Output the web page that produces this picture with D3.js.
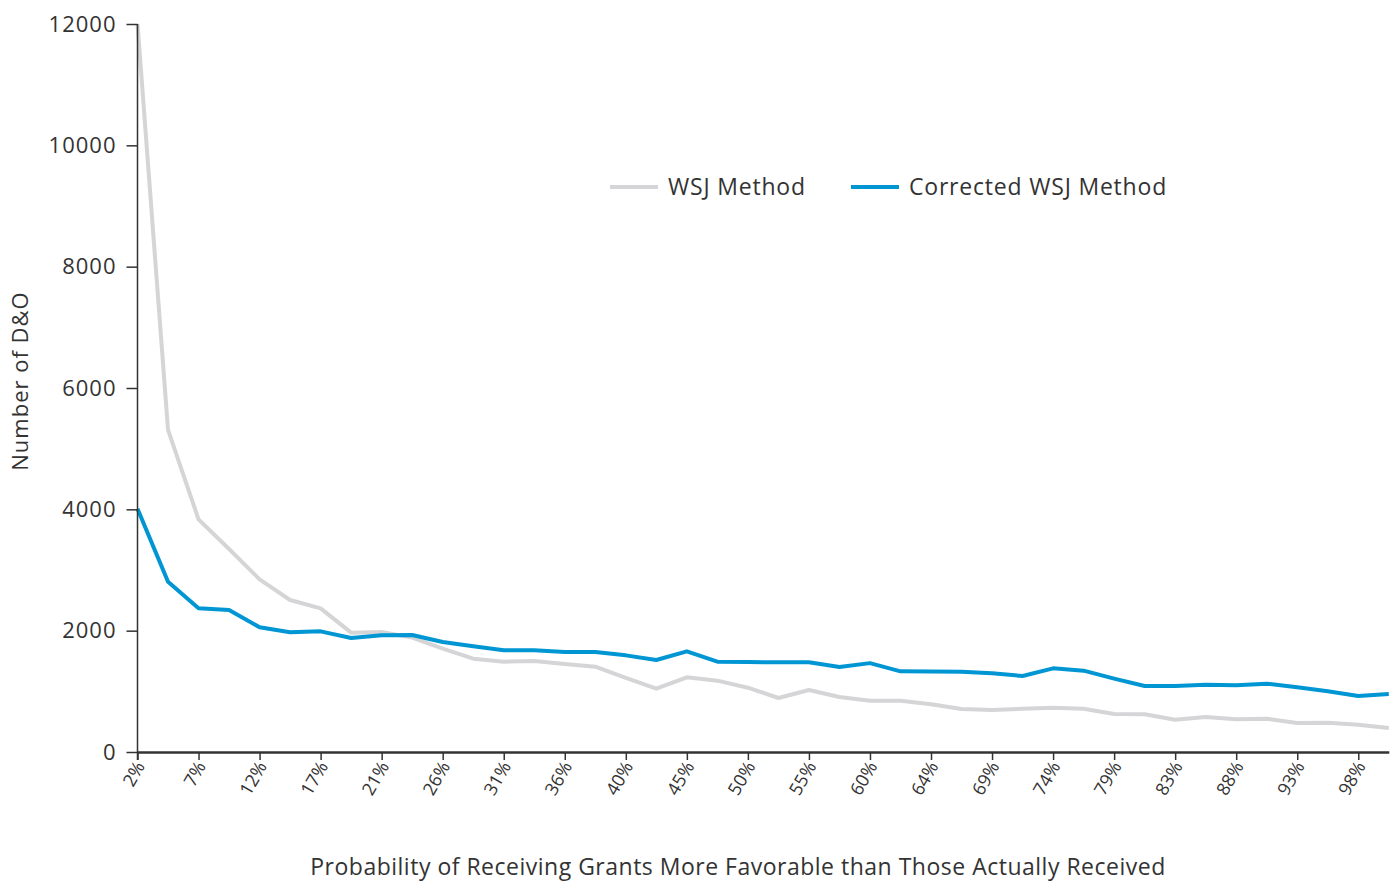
<!DOCTYPE html>
<html>
<head>
<meta charset="utf-8">
<script src="https://cdn.jsdelivr.net/npm/d3@7"></script>
<style>
  body { margin: 0; background: #fff; }
  text { font-family: "Open Sans", sans-serif; fill: #333; }
</style>
</head>
<body>
<div id="chart"></div>
<script>
// Categories: probability buckets (k/42).
const categories = ["2%","5%","7%","10%","12%","14%","17%","19%","21%","24%","26%","29%","31%","33%","36%","38%","40%","43%","45%","48%","50%","52%","55%","57%","60%","62%","64%","67%","69%","71%","74%","76%","79%","81%","83%","86%","88%","90%","93%","95%","98%","100%"];

// WSJ method counts.
const wsjValues = [12000,5310,3835,3346,2846,2505,2368,1967,1978,1885,1703,1538,1489,1500,1450,1406,1220,1044,1231,1176,1060,890,1022,907,846,846,788,709,692,714,731,714,626,621,533,577,538,549,478,483,450,396];

// Corrected WSJ method counts.
const correctedValues = [4010,2807,2368,2340,2055,1973,1989,1879,1923,1928,1813,1742,1676,1676,1648,1648,1593,1516,1659,1489,1483,1478,1478,1401,1465,1330,1326,1324,1297,1253,1379,1341,1209,1088,1088,1110,1099,1126,1066,1000,923,956];

// Y-axis tick values.
const yTicks = [0, 2000, 4000, 6000, 8000, 10000, 12000];

const grey = "#d5d5d7";
const blue = "#0096d3";
const axisColor = "#333";

var width = 1393, height = 882;
var plot = {left: 137.5, right: 1388.8, top: 24, bottom: 752};

var svg = d3.select("#chart")
  .append("svg")
    .attr("width", width)
    .attr("height", height);

var x = d3.scalePoint()
  .domain(categories)
  .range([plot.left, plot.right]);

var y = d3.scaleLinear()
  .domain([0, 12000])
  .range([plot.bottom, plot.top]);

// Lines.
var line = d3.line()
  .x((d, i) => x(categories[i]))
  .y(d => y(d));

svg.append("path")
  .datum(wsjValues)
  .attr("d", line)
  .attr("fill", "none")
  .attr("stroke", grey)
  .attr("stroke-width", 4)
  .attr("stroke-linejoin", "round");

svg.append("path")
  .datum(correctedValues)
  .attr("d", line)
  .attr("fill", "none")
  .attr("stroke", blue)
  .attr("stroke-width", 4)
  .attr("stroke-linejoin", "round");

// Y axis.
var yAxis = svg.append("g")
  .attr("transform", "translate(" + plot.left + ",0)")
  .call(d3.axisLeft(y).tickValues(yTicks).tickSize(11).tickPadding(10).tickFormat(d3.format("d")));

yAxis.select(".domain").remove();
yAxis.append("line")
  .attr("x1", 0).attr("x2", 0)
  .attr("y1", plot.top).attr("y2", plot.bottom + 8)
  .attr("stroke", axisColor).attr("stroke-width", 1.5);
yAxis.selectAll(".tick line").attr("stroke", axisColor).attr("stroke-width", 1.5);
yAxis.selectAll(".tick text")
  .style("font-size", "22px")
  .style("letter-spacing", "1px")
  .style("fill", axisColor);

// X axis.
var xAxis = svg.append("g")
  .attr("transform", "translate(0," + plot.bottom + ")")
  .call(d3.axisBottom(x)
    .tickValues(categories.filter((d, i) => i % 2 === 0))
    .tickSize(8)
    .tickSizeOuter(0));

xAxis.select(".domain")
  .attr("stroke", axisColor)
  .attr("stroke-width", 2.5);
xAxis.selectAll(".tick line").attr("stroke", axisColor).attr("stroke-width", 1.5);
xAxis.selectAll(".tick text")
  .style("font-size", "18px")
  .style("fill", axisColor)
  .attr("text-anchor", "end")
  .attr("transform", "translate(2,11) rotate(-60)")
  .attr("dy", "0.35em")
  .attr("y", 0)
  .attr("x", 0);

// Axis titles.
svg.append("text")
  .attr("x", 738)
  .attr("y", 875)
  .attr("text-anchor", "middle")
  .style("font-size", "23px")
  .style("letter-spacing", "0.5px")
  .text("Probability of Receiving Grants More Favorable than Those Actually Received");

svg.append("text")
  .attr("transform", "translate(28,381) rotate(-90)")
  .attr("text-anchor", "middle")
  .style("font-size", "22px")
  .style("letter-spacing", "1px")
  .text("Number of D&O");

// Legend.
var legendItems = [
  {label: "WSJ Method", color: grey, x: 610},
  {label: "Corrected WSJ Method", color: blue, x: 851}
];

var legend = svg.append("g");
legendItems.forEach(function(item) {
  legend.append("line")
    .attr("x1", item.x).attr("x2", item.x + 48)
    .attr("y1", 187).attr("y2", 187)
    .attr("stroke", item.color)
    .attr("stroke-width", 4);
  legend.append("text")
    .attr("x", item.x + 58)
    .attr("y", 195)
    .style("font-size", "23px")
    .style("letter-spacing", "0.8px")
    .text(item.label);
});
</script>
</body>
</html>
